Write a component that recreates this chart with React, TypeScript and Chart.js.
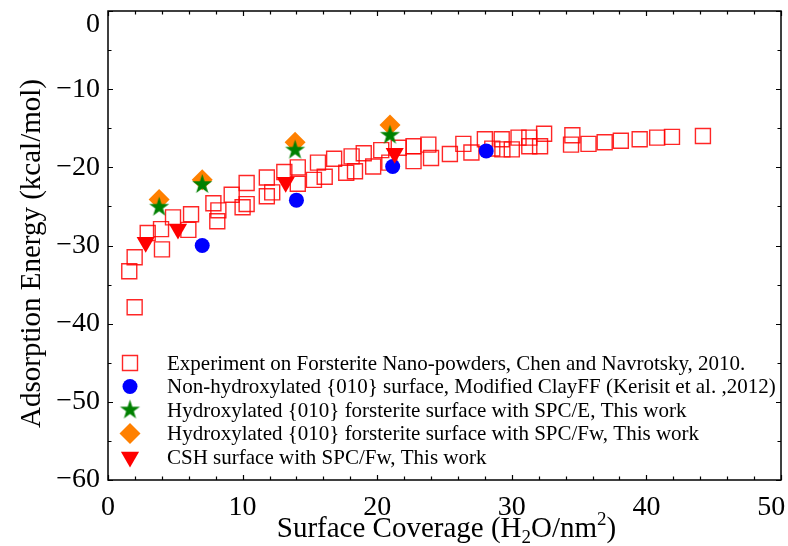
import React, { useEffect, useRef } from 'react';
import { Chart, registerables } from 'chart.js';
import { drawPoint } from 'chart.js/helpers';

Chart.register(...registerables);

// ---------- data ----------
const expX = [1.98, 1.58, 1.98, 2.95, 4.01, 3.94, 4.83, 5.97, 6.17, 7.83, 8.2, 8.12, 9.19, 10.3, 10.3, 10.0, 11.8, 11.8, 12.2, 13.1,
  14.1, 14.1, 15.6, 15.3, 16.1, 16.8, 17.7, 18.1, 18.35, 19.0, 19.7, 20.3, 20.9, 21.6, 22.7, 22.7, 23.8, 24.0, 25.4, 26.4,
  27.0, 28.0, 28.55, 29.25, 29.3, 30.0, 30.5, 31.3, 31.3, 32.1, 32.4, 34.5, 34.4, 35.7, 36.9, 38.1, 39.5, 40.8, 41.9, 44.2];
const expY = [-37.9, -33.3, -31.5, -28.4, -30.5, -27.9, -26.4, -28.0, -26.0, -24.6, -25.5, -26.9, -23.5, -22.0, -24.7, -25.1, -21.3, -23.7, -23.2, -20.6,
  -20.0, -22.1, -19.4, -21.6, -21.2, -18.9, -20.7, -18.6, -20.5, -18.2, -19.9, -17.8, -19.4, -17.5, -17.3, -19.2, -17.1, -18.8, -18.3, -17.0,
  -18.1, -16.4, -17.6, -16.4, -17.7, -17.7, -16.2, -16.2, -17.3, -17.3, -15.7, -15.9, -17.1, -17.0, -16.8, -16.6, -16.4, -16.2, -16.1, -16.0];

const nonHydX = [7.0, 14.0, 21.15, 28.1];
const nonHydY = [-30.0, -24.2, -19.9, -17.9];

const spceX = [3.8, 7.0, 13.9, 20.95];
const spceY = [-25.1, -22.2, -17.8, -15.9];

const spcfwX = [3.8, 7.0, 13.9, 20.95];
const spcfwY = [-24.1, -21.6, -16.8, -14.6];

const cshX = [2.8, 5.2, 13.2, 21.3];
const cshY = [-29.6, -27.9, -21.9, -18.2];

const seriesLabels = [
  'Experiment on Forsterite Nano-powders, Chen and Navrotsky, 2010.',
  'Non-hydroxylated {010} surface, Modified ClayFF (Kerisit et al. ,2012)',
  'Hydroxylated {010} forsterite surface with SPC/E, This work',
  'Hydroxylated {010} forsterite surface with SPC/Fw, This work',
  'CSH surface with SPC/Fw, This work',
];

const xTicks = [0, 10, 20, 30, 40, 50];
const yTicks = [0, -10, -20, -30, -40, -50, -60];

const SERIF = '"Liberation Serif", "Times New Roman", serif';

function toPoints(xs: number[], ys: number[]) {
  return xs.map((x, i) => ({ x, y: ys[i] }));
}

function makeStar(outer: number, color: string): HTMLCanvasElement {
  const size = Math.ceil(outer * 2 + 2);
  const c = document.createElement('canvas');
  c.width = size;
  c.height = size;
  const ctx = c.getContext('2d')!;
  const cx = size / 2;
  const cy = size / 2;
  const inner = outer * 0.382;
  ctx.beginPath();
  for (let i = 0; i < 10; i++) {
    const r = i % 2 === 0 ? outer : inner;
    const a = -Math.PI / 2 + (i * Math.PI) / 5;
    const px = cx + r * Math.cos(a);
    const py = cy + r * Math.sin(a);
    if (i === 0) ctx.moveTo(px, py);
    else ctx.lineTo(px, py);
  }
  ctx.closePath();
  ctx.fillStyle = color;
  ctx.fill();
  return c;
}

const zeroPad = (s: any) => {
  s.paddingLeft = 0;
  s.paddingRight = 0;
  s.paddingTop = 0;
  s.paddingBottom = 0;
};

const framePlugin = {
  id: 'frame',
  afterDraw(chart: any) {
    const { ctx, chartArea } = chart;
    const { left, right, top, bottom } = chartArea;
    const xs = chart.scales.x;
    const ys = chart.scales.y;
    ctx.save();
    ctx.strokeStyle = '#000';
    ctx.lineWidth = 1.5;
    ctx.strokeRect(left, top, right - left, bottom - top);
    ctx.lineWidth = 1.2;
    for (let v = 0; v <= 50; v += 2) {
      const px = Math.round(xs.getPixelForValue(v)) + 0.5;
      const len = v % 10 === 0 ? 5 : 3.5;
      ctx.beginPath();
      ctx.moveTo(px, bottom);
      ctx.lineTo(px, bottom - len);
      ctx.moveTo(px, top);
      ctx.lineTo(px, top + len);
      ctx.stroke();
    }
    for (let v = -60; v <= 0; v += 5) {
      const py = Math.round(ys.getPixelForValue(v)) + 0.5;
      const len = v % 10 === 0 ? 5 : 3.5;
      ctx.beginPath();
      ctx.moveTo(left, py);
      ctx.lineTo(left + len, py);
      ctx.moveTo(right, py);
      ctx.lineTo(right - len, py);
      ctx.stroke();
    }

    // legend
    const lx = left + 22;
    const tx = left + 59;
    const ly0 = 363;
    const dy = 23.5;
    chart.data.datasets.forEach((ds: any, i: number) => {
      const y = ly0 + i * dy;
      ctx.save();
      ctx.fillStyle = ds.pointBackgroundColor;
      ctx.strokeStyle = ds.pointBorderColor;
      ctx.lineWidth = ds.pointBorderWidth;
      drawPoint(ctx, { pointStyle: ds.pointStyle, radius: ds.pointRadius, rotation: ds.pointRotation || 0, borderWidth: ds.pointBorderWidth }, lx, y);
      ctx.restore();
      ctx.fillStyle = '#000';
      ctx.font = '21px ' + SERIF;
      ctx.textBaseline = 'middle';
      ctx.textAlign = 'left';
      ctx.fillText(seriesLabels[i], tx, y + 1);
    });

    // x title with sub/superscript
    ctx.fillStyle = '#000';
    ctx.textBaseline = 'alphabetic';
    ctx.textAlign = 'left';
    const big = '29px ' + SERIF;
    const small = '19px ' + SERIF;
    const parts: [string, string, number][] = [
      ['Surface Coverage (H', big, 0],
      ['2', small, 6],
      ['O/nm', big, 0],
      ['2', small, -12],
      [')', big, 0],
    ];
    let total = 0;
    parts.forEach(([t, f]) => { ctx.font = f; total += ctx.measureText(t).width; });
    let cx = (left + right) / 2 - total / 2 + 2;
    const baseY = 537;
    parts.forEach(([t, f, off]) => {
      ctx.font = f;
      ctx.fillText(t, cx, baseY + off);
      cx += ctx.measureText(t).width;
    });

    // y title
    ctx.save();
    ctx.translate(40, (top + bottom) / 2 + 8);
    ctx.rotate(-Math.PI / 2);
    ctx.font = '29px ' + SERIF;
    ctx.textAlign = 'center';
    ctx.textBaseline = 'alphabetic';
    ctx.fillText('Adsorption Energy (kcal/mol)', 0, 0);
    ctx.restore();

    ctx.restore();
  },
};

export default function App() {
  const ref = useRef<HTMLCanvasElement>(null);
  useEffect(() => {
    if (!ref.current) return;
    const star = makeStar(10.5, '#008000');
    const chart = new Chart(ref.current, {
      type: 'scatter',
      data: {
        datasets: [
          {
            label: seriesLabels[0],
            data: toPoints(expX, expY),
            pointStyle: 'rect',
            pointRadius: 10.6,
            pointBackgroundColor: 'rgba(0,0,0,0)',
            pointBorderColor: 'rgba(255,0,0,0.85)',
            pointBorderWidth: 1.4,
            order: 5,
          },
          {
            label: seriesLabels[1],
            data: toPoints(nonHydX, nonHydY),
            pointStyle: 'circle',
            pointRadius: 7.5,
            pointBackgroundColor: '#0000ff',
            pointBorderColor: '#0000ff',
            pointBorderWidth: 0,
            order: 2,
          },
          {
            label: seriesLabels[2],
            data: toPoints(spceX, spceY),
            pointStyle: star,
            pointRadius: 10.5,
            pointBackgroundColor: '#008000',
            pointBorderColor: '#008000',
            pointBorderWidth: 0,
            order: 3,
          },
          {
            label: seriesLabels[3],
            data: toPoints(spcfwX, spcfwY),
            pointStyle: 'rectRot',
            pointRadius: 10.5,
            pointBackgroundColor: '#ff8000',
            pointBorderColor: '#ff8000',
            pointBorderWidth: 0,
            order: 4,
          },
          {
            label: seriesLabels[4],
            data: toPoints(cshX, cshY),
            pointStyle: 'triangle',
            pointRotation: 180,
            pointRadius: 10.5,
            pointBackgroundColor: '#ff0000',
            pointBorderColor: '#ff0000',
            pointBorderWidth: 0,
            order: 1,
          },
        ] as any,
      },
      options: {
        animation: false,
        responsive: false,
        maintainAspectRatio: false,
        events: [],
        layout: { autoPadding: false, padding: { left: 0, right: 7, top: 11, bottom: 0 } },
        plugins: { legend: { display: false }, tooltip: { enabled: false } },
        scales: {
          x: {
            type: 'linear',
            min: 0,
            max: 50,
            afterBuildTicks: (s: any) => { s.ticks = xTicks.map((v) => ({ value: v })); },
            afterFit: (s: any) => { s.height = 66; zeroPad(s); },
            grid: { display: false, drawTicks: false },
            border: { display: false },
            ticks: {
              color: '#000',
              font: { family: SERIF, size: 28 },
              padding: 11,
              maxRotation: 0,
              minRotation: 0,
              // the last label is nudged inside the figure, as in the reference
              callback: (v: any) => (v === 50 ? String(v) + '\u2002\u2009' : String(v)),
            },
          },
          y: {
            type: 'linear',
            min: -60,
            max: 0,
            afterBuildTicks: (s: any) => { s.ticks = yTicks.map((v) => ({ value: v })); },
            afterFit: (s: any) => { s.width = 108; zeroPad(s); },
            grid: { display: false, drawTicks: false },
            border: { display: false },
            ticks: {
              color: '#000',
              font: { family: SERIF, size: 28, lineHeight: 0.95 },
              padding: 8,
              // the top label sits just below the frame, as in the reference
              callback: (v: any) => (v === 0 ? ['', '0'] : String(v).replace('-', '\u2212')),
            },
          },
        },
      } as any,
      plugins: [framePlugin],
    });
    return () => chart.destroy();
  }, []);
  return (
    <div style={{ position: 'fixed', left: 0, top: 0, width: 788, height: 546, background: '#fff' }}>
      <canvas ref={ref} width={788} height={546} />
    </div>
  );
}
